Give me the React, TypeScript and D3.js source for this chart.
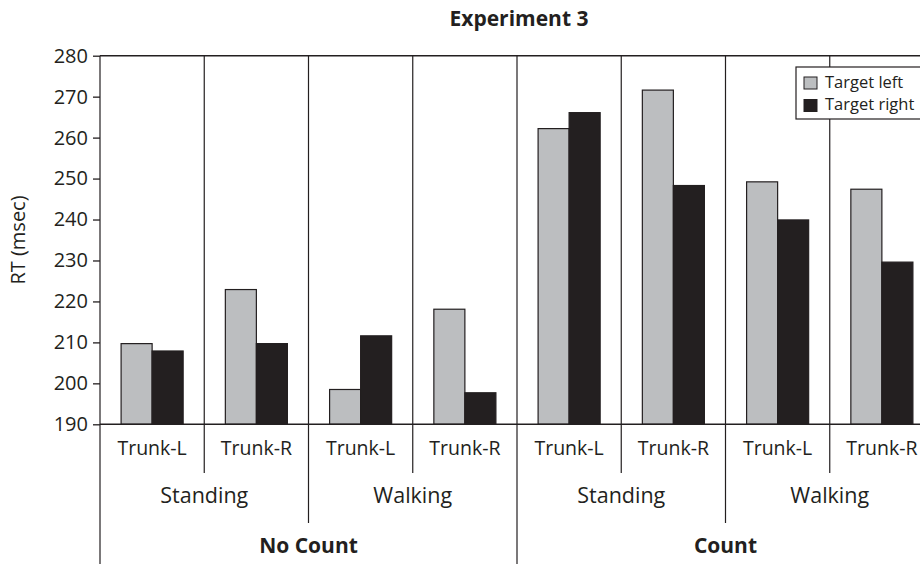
import React, { useEffect, useRef } from "react";
import * as d3 from "d3";

const countGroups = ["No Count", "Count"];
const postures = ["Standing", "Walking"];
const trunks = ["Trunk-L", "Trunk-R"];
const seriesNames = ["Target left", "Target right"];
const targetLeft = [209.7, 222.9, 198.5, 218.1, 262.2, 271.6, 249.2, 247.4];
const targetRight = [207.9, 209.7, 211.6, 197.7, 266.1, 248.3, 239.9, 229.6];
const yTicks = [190, 200, 210, 220, 230, 240, 250, 260, 270, 280];

const ink = "#231f20";
const font = "'Open Sans', sans-serif";

const App = () => {
  const ref = useRef(null);

  useEffect(() => {
    const svg = d3.select(ref.current);
    svg.selectAll("*").remove();

    const left = 100,
      right = 934,
      top = 55.7,
      bottom = 424.3;

    // one band per trunk condition
    const cells: { key: string; count: string; posture: string; trunk: string; i: number }[] = [];
    countGroups.forEach((c) =>
      postures.forEach((p) =>
        trunks.forEach((t) => {
          cells.push({ key: `${c}|${p}|${t}`, count: c, posture: p, trunk: t, i: cells.length });
        })
      )
    );

    const x0 = d3.scaleBand().domain(cells.map((d) => d.key)).range([left, right]).padding(0);
    const x1 = d3
      .scaleBand()
      .domain(seriesNames)
      .range([0, x0.bandwidth()])
      .paddingInner(0)
      .paddingOuter(0.68);
    const y = d3.scaleLinear().domain([190, 280]).range([bottom, top]);
    const color = d3.scaleOrdinal<string>().domain(seriesNames).range(["#bcbec0", ink]);

    const g = svg.append("g");

    // title
    g.append("text")
      .attr("x", 519)
      .attr("y", 20)
      .attr("text-anchor", "middle")
      .attr("dominant-baseline", "middle")
      .style("font-family", font)
      .style("font-weight", "bold")
      .style("font-size", "21px")
      .attr("fill", ink)
      .text("Experiment 3");

    // y axis title
    g.append("text")
      .attr("transform", `translate(20,${(top + bottom) / 2}) rotate(-90)`)
      .attr("text-anchor", "middle")
      .attr("dominant-baseline", "middle")
      .style("font-family", font)
      .style("font-size", "20px")
      .attr("fill", ink)
      .text("RT (msec)");

    // bars
    const rows = cells.map((c) => ({ ...c, values: [targetLeft[c.i], targetRight[c.i]] }));
    const grp = g
      .selectAll(".grp")
      .data(rows)
      .enter()
      .append("g")
      .attr("transform", (d) => `translate(${x0(d.key)},0)`);
    grp
      .selectAll("rect")
      .data((d) => d.values.map((v, j) => ({ name: seriesNames[j], v })))
      .enter()
      .append("rect")
      .attr("x", (d) => x1(d.name) as number)
      .attr("y", (d) => y(d.v))
      .attr("width", x1.bandwidth())
      .attr("height", (d) => y(190) - y(d.v))
      .attr("fill", (d) => color(d.name))
      .attr("stroke", ink)
      .attr("stroke-width", 1.2);

    // separators: depth depends on hierarchy level
    const bounds = d3.range(cells.length + 1).map((k) => {
      const xPos = k < cells.length ? (x0(cells[k].key) as number) : right;
      const depth = k % 4 === 0 ? 564 : k % 2 === 0 ? 523 : 473;
      return { xPos, depth };
    });
    g.selectAll(".sep")
      .data(bounds)
      .enter()
      .append("line")
      .attr("x1", (d) => d.xPos)
      .attr("x2", (d) => d.xPos)
      .attr("y1", top)
      .attr("y2", (d) => d.depth)
      .attr("stroke", ink)
      .attr("stroke-width", 1.2);

    // top border and baseline
    [top, bottom].forEach((yy) =>
      g
        .append("line")
        .attr("x1", left)
        .attr("x2", right)
        .attr("y1", yy)
        .attr("y2", yy)
        .attr("stroke", ink)
        .attr("stroke-width", 1.6)
    );

    // y axis ticks
    const yAxis = g
      .append("g")
      .attr("transform", `translate(${left},0)`)
      .call(d3.axisLeft(y).tickValues(yTicks).tickSize(7).tickPadding(5));
    yAxis.select(".domain").remove();
    yAxis.selectAll("line").attr("stroke", ink).attr("stroke-width", 1.3);
    yAxis
      .selectAll("text")
      .style("font-family", font)
      .style("font-size", "20px")
      .attr("fill", ink);

    // category labels
    g.selectAll(".trunk")
      .data(cells)
      .enter()
      .append("text")
      .attr("x", (d) => (x0(d.key) as number) + x0.bandwidth() / 2)
      .attr("y", 450)
      .attr("text-anchor", "middle")
      .attr("dominant-baseline", "middle")
      .style("font-family", font)
      .style("font-size", "19.5px")
      .attr("fill", ink)
      .text((d) => d.trunk);

    const postureCells = cells.filter((d) => d.trunk === trunks[0]);
    g.selectAll(".posture")
      .data(postureCells)
      .enter()
      .append("text")
      .attr("x", (d) => (x0(d.key) as number) + x0.bandwidth())
      .attr("y", 497)
      .attr("text-anchor", "middle")
      .attr("dominant-baseline", "middle")
      .style("font-family", font)
      .style("font-size", "21.5px")
      .attr("fill", ink)
      .text((d) => d.posture);

    const countCells = postureCells.filter((d) => d.posture === postures[0]);
    g.selectAll(".count")
      .data(countCells)
      .enter()
      .append("text")
      .attr("x", (d) => (x0(d.key) as number) + x0.bandwidth() * 2)
      .attr("y", 547)
      .attr("text-anchor", "middle")
      .attr("dominant-baseline", "middle")
      .style("font-family", font)
      .style("font-size", "21px")
      .style("font-weight", "bold")
      .attr("fill", ink)
      .text((d) => d.count);

    // legend
    const lg = g.append("g").attr("transform", "translate(796,67)");
    lg.append("rect")
      .attr("width", 160)
      .attr("height", 52)
      .attr("fill", "white")
      .attr("stroke", ink)
      .attr("stroke-width", 1.2);
    seriesNames.forEach((name, j) => {
      const row = lg.append("g").attr("transform", `translate(0,${j * 22.5})`);
      row
        .append("rect")
        .attr("x", 8)
        .attr("y", 10)
        .attr("width", 13)
        .attr("height", 12)
        .attr("fill", color(name))
        .attr("stroke", ink)
        .attr("stroke-width", 1);
      row
        .append("text")
        .attr("x", 29)
        .attr("y", 16.5)
        .attr("dominant-baseline", "middle")
        .style("font-family", font)
        .style("font-size", "16.5px")
        .attr("fill", ink)
        .text(name);
    });
  }, []);

  return (
    <svg
      ref={ref}
      width={920}
      height={564}
      style={{ position: "absolute", left: 0, top: 0, background: "white" }}
    />
  );
};

export default App;
